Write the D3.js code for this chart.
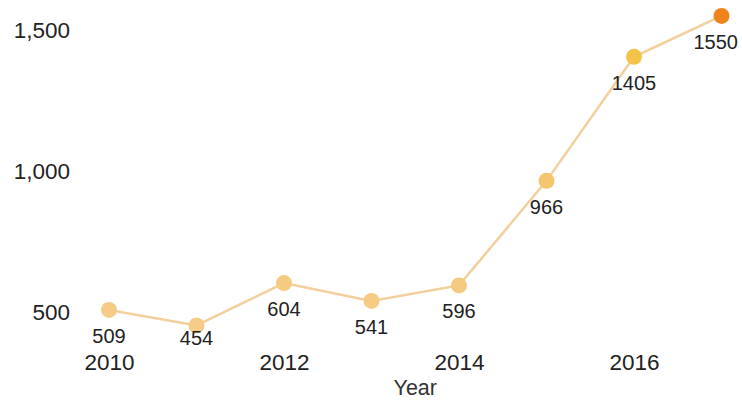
<!DOCTYPE html>
<html>
<head>
<meta charset="utf-8">
<script src="https://cdn.jsdelivr.net/npm/d3@7"></script>
<style>
  html, body { margin: 0; padding: 0; background: #fff; }
  svg { display: block; }
  svg text { font-family: "Liberation Sans", Arial, Helvetica, sans-serif !important; }
</style>
</head>
<body>
<svg id="chart" width="742" height="402"></svg>
<script>
const years = [2010, 2011, 2012, 2013, 2014, 2015, 2016, 2017];
const values = [509, 454, 604, 541, 596, 966, 1405, 1550];
const xTicks = [2010, 2012, 2014, 2016];
const yTicks = [500, 1000, 1500];
const xTitle = "Year";

const W = 742;
const svg = d3.select("#chart");
const x = d3.scaleLinear().domain([2010, 2017]).range([109, 721.5]);
const y = d3.scaleLinear().domain([500, 1500]).range([312.5, 30]);
const color = d3.scaleLinear()
  .domain([454, 1000, 1405, 1550])
  .range(["#f6cc88", "#f3c66e", "#f4c34a", "#ef841c"]);

const data = years.map((yr, i) => ({ year: yr, value: values[i] }));

// y axis
const yAxis = svg.append("g")
  .attr("transform", "translate(78,0)")
  .call(d3.axisLeft(y).tickValues(yTicks).tickSize(0).tickPadding(8).tickFormat(d3.format(",")));
yAxis.select(".domain").remove();
yAxis.selectAll("text").attr("font-size", 22.5).attr("fill", "#222");

// x axis
const xAxis = svg.append("g")
  .attr("transform", "translate(0,349)")
  .call(d3.axisBottom(x).tickValues(xTicks).tickSize(0).tickPadding(5).tickFormat(d3.format("d")));
xAxis.select(".domain").remove();
xAxis.selectAll("text").attr("font-size", 22.5).attr("fill", "#222");

svg.append("text")
  .attr("x", (x.range()[0] + x.range()[1]) / 2)
  .attr("y", 395)
  .attr("text-anchor", "middle")
  .attr("font-size", 21.5)
  .attr("fill", "#333")
  .text(xTitle);

// line
const line = d3.line().x(d => x(d.year)).y(d => y(d.value));
svg.append("path")
  .datum(data)
  .attr("d", line)
  .attr("fill", "none")
  .attr("stroke", "#f3cf9c")
  .attr("stroke-width", 2.5);

// points
svg.append("g").selectAll("circle")
  .data(data)
  .join("circle")
  .attr("cx", d => x(d.year))
  .attr("cy", d => y(d.value))
  .attr("r", 8)
  .attr("fill", d => color(d.value));

// labels
svg.append("g").selectAll("text")
  .data(data)
  .join("text")
  .attr("x", d => x(d.year))
  .attr("y", d => Math.min(y(d.value) + 26, 338))
  .attr("dy", "0.35em")
  .attr("text-anchor", "middle")
  .attr("font-size", 20)
  .attr("fill", "#222")
  .text(d => d.value)
  .each(function(d) {
    const bb = this.getBBox();
    const overflow = bb.x + bb.width - (W - 4);
    if (overflow > 0) d3.select(this).attr("x", x(d.year) - overflow);
  });
</script>
</body>
</html>
